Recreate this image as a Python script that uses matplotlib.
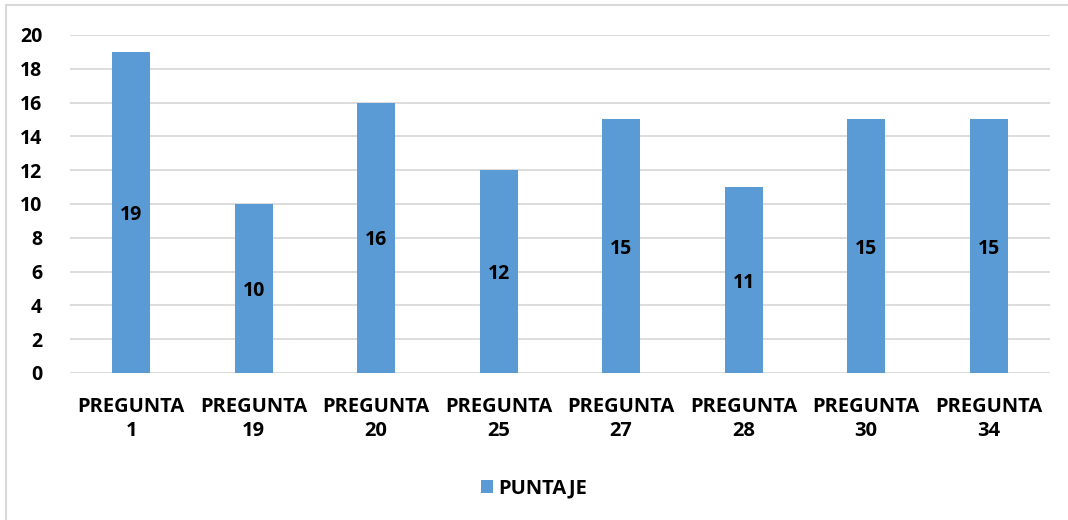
import matplotlib
matplotlib.use("Agg")
import matplotlib.pyplot as plt
from matplotlib.patches import Rectangle

preguntas = ["PREGUNTA\n1", "PREGUNTA\n19", "PREGUNTA\n20", "PREGUNTA\n25",
             "PREGUNTA\n27", "PREGUNTA\n28", "PREGUNTA\n30", "PREGUNTA\n34"]
puntaje = [19, 10, 16, 12, 15, 11, 15, 15]

plt.rcParams['font.family'] = ['Open Sans', 'DejaVu Sans']
plt.rcParams['font.weight'] = 'bold'

fig = plt.figure(figsize=(10.68, 5.2), dpi=100)
ax = fig.add_axes([0.0655, 0.2827, 0.9175, 0.65])

x = list(range(len(puntaje)))
bars = ax.bar(x, puntaje, width=0.31, color='#5B9BD5', label='PUNTAJE', zorder=3)
for b, v in zip(bars, puntaje):
    ax.text(b.get_x() + b.get_width() / 2, v / 2, str(v), ha='center', va='center_baseline',
            fontsize=14, fontweight='bold', color='black', zorder=4)

ax.set_xlim(-0.5, len(puntaje) - 0.5)
ax.set_ylim(0, 20)
ax.set_yticks(range(0, 21, 2))
ax.set_xticks(x)
ax.set_xticklabels(preguntas, fontsize=14.5, fontweight='bold', linespacing=1.3)
ax.tick_params(axis='y', labelsize=14, length=0, pad=20)
ax.tick_params(axis='x', length=0, pad=17)
for t in ax.get_yticklabels():
    t.set_fontweight('bold')
ax.grid(axis='y', color='#D9D9D9', linewidth=1.3, zorder=0)
for s in ax.spines.values():
    s.set_visible(False)

leg = fig.legend(loc='center', bbox_to_anchor=(0.5, 0.06), frameon=False,
                 prop={'size': 14.5, 'weight': 'bold'}, handlelength=0.6, handleheight=0.6,
                 handletextpad=0.3)

fig.patches.append(Rectangle((0.006, -0.01), 1.1, 1.0 - 0.0096 + 0.01, transform=fig.transFigure,
                             fill=False, edgecolor='#D9D9D9', linewidth=1.5))

fig.savefig('out.png', dpi=100)
